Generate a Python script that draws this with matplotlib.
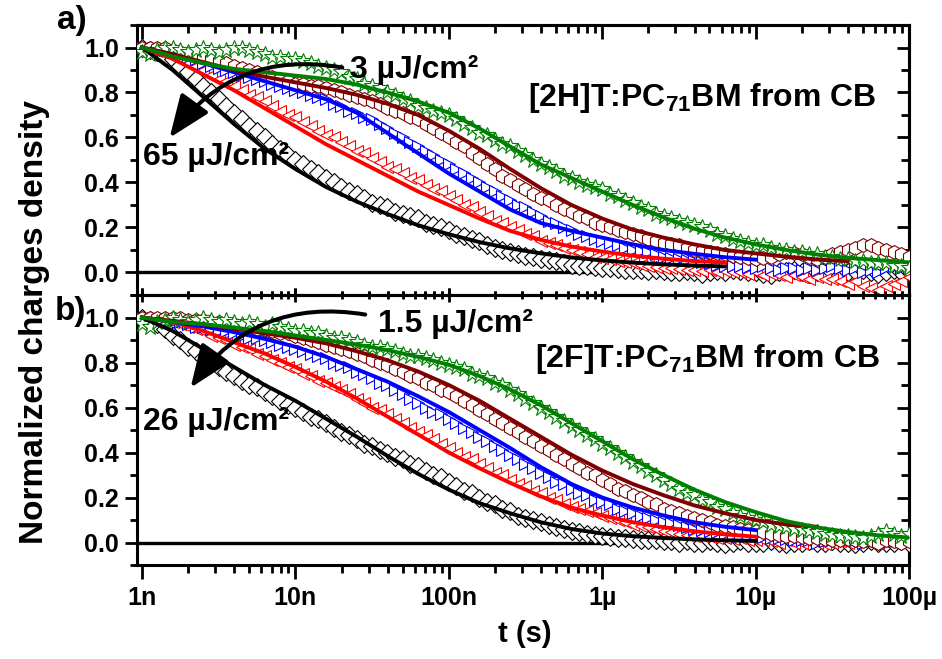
import numpy as np
import matplotlib.pyplot as plt
from matplotlib.ticker import FixedLocator, FuncFormatter, MultipleLocator, NullFormatter
from matplotlib.patches import FancyArrowPatch, ArrowStyle

plt.rcParams['font.family'] = ['Liberation Sans', 'DejaVu Sans']
plt.rcParams['font.weight'] = 'bold'
plt.rcParams['mathtext.fontset'] = 'custom'
plt.rcParams['mathtext.rm'] = 'Liberation Sans:bold'
plt.rcParams['mathtext.it'] = 'Liberation Sans:bold'
plt.rcParams['mathtext.bf'] = 'Liberation Sans:bold'

W, H = 942, 659
TICKSIZE = 18
TEXTSIZE = 23
LABELSIZE = 24

# measured points, 20 per decade from 1 ns to 100 us
mant_data = [1.0, 1.122, 1.259, 1.413, 1.585, 1.778, 1.995, 2.239, 2.512, 2.818,
             3.162, 3.548, 3.981, 4.467, 5.012, 5.623, 6.310, 7.079, 7.943, 8.913]
t_data = [m * 10.0 ** d for d in range(-9, -4) for m in mant_data] + [1e-4]

# fit curves, 5 per decade
mant_fit = [1.0, 1.585, 2.512, 3.981, 6.310]
t_fit = [m * 10.0 ** d for d in range(-9, -4) for m in mant_fit] + [1e-4]

# ---- panel a: [2H]T:PC71BM, 65 ... 3 uJ/cm2 ----
a_black = [1.00, 0.99, 0.98, 0.96, 0.95, 0.92, 0.89, 0.86, 0.83, 0.80,
           0.77, 0.74, 0.71, 0.68, 0.65, 0.63, 0.60, 0.57, 0.55, 0.52,
           0.50, 0.48, 0.46, 0.44, 0.42, 0.40, 0.38, 0.36, 0.35, 0.33,
           0.31, 0.30, 0.29, 0.27, 0.26, 0.25, 0.24, 0.22, 0.21, 0.20,
           0.19, 0.17, 0.16, 0.15, 0.14, 0.12, 0.11, 0.10, 0.09, 0.08,
           0.075, 0.07, 0.06, 0.055, 0.05, 0.04, 0.035, 0.03, 0.03, 0.025,
           0.02, 0.02, 0.015, 0.01, 0.01, 0.01, 0.005, 0.01, 0.005, 0.0,
           0.0, 0.005, 0.0, -0.005, 0.0, 0.005, 0.0, 0.01, 0.005, 0.0,
           0.0, -0.005, -0.01, 0.0, 0.005, 0.01, 0.0, -0.005, 0.0, 0.01,
           0.0, -0.01, 0.0, 0.005, 0.01, 0.0, -0.005, 0.0, 0.01, 0.0,
           0.005]
a_red = [1.00, 1.00, 0.99, 0.98, 0.96, 0.95, 0.93, 0.92, 0.90, 0.88,
         0.86, 0.85, 0.83, 0.81, 0.79, 0.78, 0.76, 0.74, 0.72, 0.70,
         0.69, 0.67, 0.65, 0.63, 0.61, 0.60, 0.58, 0.56, 0.54, 0.53,
         0.51, 0.49, 0.47, 0.46, 0.44, 0.42, 0.41, 0.39, 0.37, 0.36,
         0.34, 0.32, 0.30, 0.29, 0.27, 0.25, 0.23, 0.22, 0.20, 0.19,
         0.17, 0.16, 0.14, 0.13, 0.12, 0.11, 0.10, 0.09, 0.08, 0.07,
         0.065, 0.06, 0.05, 0.045, 0.04, 0.035, 0.03, 0.025, 0.02, 0.02,
         0.015, 0.01, 0.01, 0.005, 0.01, 0.0, 0.005, 0.0, 0.0, -0.005,
         0.0, -0.01, -0.005, -0.01, -0.02, -0.01, -0.02, -0.03, -0.02, -0.03,
         -0.03, -0.04, -0.05, -0.04, -0.06, -0.07, -0.08, -0.06, -0.05, -0.04,
         -0.02]
a_blue = [1.00, 1.00, 1.00, 0.99, 0.98, 0.97, 0.96, 0.95, 0.93, 0.92,
          0.91, 0.90, 0.89, 0.88, 0.87, 0.86, 0.85, 0.84, 0.83, 0.82,
          0.81, 0.80, 0.79, 0.78, 0.77, 0.75, 0.74, 0.72, 0.71, 0.69,
          0.68, 0.66, 0.64, 0.62, 0.60, 0.58, 0.56, 0.54, 0.52, 0.50,
          0.48, 0.46, 0.44, 0.42, 0.40, 0.38, 0.36, 0.34, 0.32, 0.30,
          0.29, 0.27, 0.25, 0.23, 0.22, 0.20, 0.19, 0.17, 0.16, 0.15,
          0.14, 0.13, 0.12, 0.11, 0.10, 0.095, 0.09, 0.08, 0.07, 0.065,
          0.06, 0.055, 0.05, 0.045, 0.04, 0.035, 0.03, 0.03, 0.03, 0.025,
          0.02, 0.03, 0.02, 0.01, 0.02, 0.02, 0.01, 0.02, 0.01, 0.02,
          0.03, 0.02, 0.01, 0.02, 0.0, 0.01, 0.0, 0.02, 0.03, 0.02,
          0.02]
a_brown = [1.00, 1.00, 1.00, 1.00, 0.99, 0.98, 0.97, 0.97, 0.96, 0.95,
           0.94, 0.93, 0.92, 0.91, 0.90, 0.89, 0.88, 0.87, 0.86, 0.85,
           0.84, 0.84, 0.83, 0.83, 0.82, 0.81, 0.80, 0.79, 0.78, 0.77,
           0.76, 0.75, 0.73, 0.72, 0.71, 0.69, 0.68, 0.66, 0.64, 0.62,
           0.60, 0.58, 0.56, 0.53, 0.51, 0.48, 0.46, 0.43, 0.41, 0.39,
           0.37, 0.35, 0.33, 0.32, 0.30, 0.28, 0.27, 0.25, 0.24, 0.22,
           0.21, 0.20, 0.19, 0.18, 0.17, 0.16, 0.15, 0.14, 0.13, 0.125,
           0.12, 0.11, 0.10, 0.095, 0.09, 0.085, 0.08, 0.075, 0.07, 0.065,
           0.06, 0.065, 0.07, 0.08, 0.09, 0.085, 0.08, 0.07, 0.06, 0.07,
           0.08, 0.09, 0.10, 0.11, 0.12, 0.12, 0.11, 0.10, 0.09, 0.08,
           0.07]
a_green = [0.98, 0.97, 0.99, 1.00, 1.00, 0.99, 0.98, 0.99, 1.00, 0.99,
           0.98, 0.99, 1.00, 1.00, 0.99, 0.98, 0.97, 0.96, 0.96, 0.95,
           0.95, 0.94, 0.93, 0.92, 0.91, 0.90, 0.89, 0.87, 0.86, 0.84,
           0.83, 0.82, 0.80, 0.79, 0.77, 0.76, 0.74, 0.73, 0.72, 0.71,
           0.70, 0.68, 0.66, 0.64, 0.62, 0.61, 0.59, 0.57, 0.56, 0.54,
           0.52, 0.50, 0.48, 0.47, 0.45, 0.43, 0.42, 0.40, 0.39, 0.38,
           0.37, 0.35, 0.34, 0.32, 0.31, 0.29, 0.28, 0.26, 0.25, 0.24,
           0.23, 0.22, 0.21, 0.20, 0.19, 0.17, 0.16, 0.15, 0.14, 0.13,
           0.12, 0.12, 0.11, 0.10, 0.10, 0.09, 0.09, 0.08, 0.08, 0.07,
           0.07, 0.06, 0.06, 0.05, 0.05, 0.04, 0.04, 0.04, 0.03, 0.03,
           0.02]

a_black_fit = [1.0, 0.90, 0.78, 0.66, 0.55, 0.46, 0.38, 0.315, 0.26, 0.21,
               0.17, 0.135, 0.107, 0.085, 0.067, 0.054, 0.044, 0.036, 0.031, 0.027]
a_red_fit = [1.0, 0.95, 0.88, 0.81, 0.73, 0.65, 0.57, 0.50, 0.43, 0.36,
             0.30, 0.24, 0.185, 0.145, 0.115, 0.093, 0.075, 0.061, 0.051, 0.044]
a_blue_fit = [1.0, 0.97, 0.93, 0.89, 0.85, 0.81, 0.77, 0.71, 0.62, 0.53,
              0.44, 0.36, 0.28, 0.22, 0.185, 0.155, 0.125, 0.10, 0.083, 0.068, 0.057]
a_brown_fit = [1.0, 0.97, 0.935, 0.90, 0.87, 0.845, 0.82, 0.79, 0.75, 0.70,
               0.63, 0.55, 0.46, 0.375, 0.30, 0.24, 0.19, 0.155, 0.125, 0.10,
               0.085, 0.07, 0.058, 0.05]
a_green_fit = [1.0, 0.96, 0.93, 0.905, 0.89, 0.875, 0.86, 0.835, 0.80, 0.76,
               0.71, 0.64, 0.56, 0.48, 0.42, 0.36, 0.30, 0.245, 0.195, 0.155,
               0.125, 0.10, 0.08, 0.065, 0.055, 0.045]

# ---- panel b: [2F]T:PC71BM, 26 ... 1.5 uJ/cm2 ----
b_black = [1.00, 0.99, 0.97, 0.95, 0.92, 0.90, 0.87, 0.85, 0.82, 0.80,
           0.78, 0.76, 0.74, 0.72, 0.70, 0.69, 0.67, 0.65, 0.63, 0.61,
           0.60, 0.58, 0.56, 0.55, 0.53, 0.51, 0.49, 0.48, 0.46, 0.44,
           0.43, 0.41, 0.40, 0.38, 0.37, 0.35, 0.34, 0.32, 0.30, 0.29,
           0.27, 0.25, 0.23, 0.22, 0.20, 0.18, 0.17, 0.15, 0.14, 0.12,
           0.11, 0.10, 0.09, 0.08, 0.07, 0.06, 0.05, 0.045, 0.04, 0.035,
           0.03, 0.025, 0.02, 0.02, 0.015, 0.01, 0.01, 0.01, 0.005, 0.005,
           0.0, 0.005, 0.0, 0.0, 0.005, 0.0, -0.005, 0.0, 0.005, 0.0,
           0.0, 0.0, 0.005, 0.0, -0.005, 0.0, 0.0, 0.005, 0.0, 0.0,
           0.005, 0.0, 0.0, -0.005, 0.0, 0.005, 0.0, 0.0, 0.0, 0.005,
           0.0]
b_red = [1.00, 1.00, 0.99, 0.99, 0.98, 0.97, 0.96, 0.95, 0.94, 0.92,
         0.91, 0.90, 0.88, 0.87, 0.86, 0.84, 0.83, 0.81, 0.80, 0.78,
         0.77, 0.75, 0.74, 0.72, 0.71, 0.69, 0.68, 0.66, 0.64, 0.62,
         0.60, 0.59, 0.57, 0.55, 0.53, 0.51, 0.49, 0.48, 0.46, 0.44,
         0.42, 0.40, 0.38, 0.37, 0.35, 0.33, 0.31, 0.30, 0.28, 0.26,
         0.25, 0.23, 0.22, 0.20, 0.19, 0.17, 0.16, 0.15, 0.14, 0.13,
         0.12, 0.11, 0.10, 0.09, 0.08, 0.075, 0.07, 0.06, 0.05, 0.045,
         0.04, 0.035, 0.03, 0.03, 0.025, 0.02, 0.02, 0.015, 0.02, 0.01,
         0.01, 0.01, 0.005, 0.0, 0.01, 0.0, 0.0, 0.005, 0.0, -0.005,
         0.0, 0.005, 0.0, 0.0, 0.01, 0.0, 0.0, 0.005, 0.0, 0.01,
         0.0]
b_blue = [1.00, 1.00, 1.00, 0.99, 0.99, 0.98, 0.97, 0.96, 0.96, 0.95,
          0.94, 0.94, 0.93, 0.92, 0.91, 0.91, 0.90, 0.89, 0.88, 0.87,
          0.86, 0.85, 0.84, 0.83, 0.82, 0.80, 0.79, 0.78, 0.76, 0.75,
          0.73, 0.71, 0.70, 0.68, 0.66, 0.64, 0.62, 0.60, 0.58, 0.57,
          0.55, 0.53, 0.51, 0.49, 0.47, 0.45, 0.43, 0.41, 0.39, 0.37,
          0.35, 0.33, 0.31, 0.29, 0.27, 0.26, 0.24, 0.22, 0.21, 0.19,
          0.18, 0.17, 0.15, 0.14, 0.13, 0.12, 0.11, 0.10, 0.09, 0.085,
          0.08, 0.07, 0.06, 0.055, 0.05, 0.045, 0.04, 0.035, 0.03, 0.03,
          0.03, 0.025, 0.02, 0.02, 0.015, 0.01, 0.01, 0.01, 0.0, 0.005,
          0.01, 0.02, 0.015, 0.01, 0.0, 0.005, 0.01, 0.0, 0.005, 0.01,
          0.01]
b_brown = [1.00, 1.00, 1.00, 1.00, 1.00, 1.00, 0.99, 0.99, 0.99, 0.98,
           0.98, 0.97, 0.97, 0.96, 0.96, 0.95, 0.95, 0.94, 0.93, 0.93,
           0.92, 0.91, 0.90, 0.89, 0.88, 0.87, 0.86, 0.85, 0.84, 0.83,
           0.81, 0.80, 0.79, 0.77, 0.76, 0.74, 0.73, 0.71, 0.70, 0.68,
           0.67, 0.65, 0.63, 0.61, 0.59, 0.57, 0.55, 0.53, 0.51, 0.49,
           0.47, 0.45, 0.43, 0.41, 0.39, 0.37, 0.35, 0.33, 0.31, 0.30,
           0.28, 0.26, 0.24, 0.23, 0.21, 0.20, 0.18, 0.17, 0.15, 0.14,
           0.13, 0.12, 0.11, 0.10, 0.09, 0.08, 0.075, 0.07, 0.06, 0.055,
           0.05, 0.045, 0.04, 0.035, 0.03, 0.03, 0.025, 0.02, 0.02, 0.015,
           0.01, 0.01, 0.015, 0.01, 0.005, 0.01, 0.0, 0.01, 0.005, 0.0,
           0.005]
b_green = [0.97, 0.96, 0.98, 0.99, 1.00, 0.99, 0.98, 0.99, 1.00, 0.99,
           0.98, 0.99, 0.98, 0.97, 0.98, 0.97, 0.96, 0.97, 0.96, 0.95,
           0.94, 0.94, 0.93, 0.93, 0.92, 0.91, 0.91, 0.90, 0.89, 0.88,
           0.87, 0.87, 0.86, 0.85, 0.84, 0.83, 0.83, 0.82, 0.81, 0.80,
           0.79, 0.78, 0.77, 0.75, 0.74, 0.73, 0.71, 0.70, 0.68, 0.66,
           0.64, 0.62, 0.60, 0.58, 0.56, 0.54, 0.52, 0.50, 0.48, 0.46,
           0.44, 0.42, 0.40, 0.38, 0.36, 0.34, 0.32, 0.30, 0.28, 0.26,
           0.24, 0.22, 0.21, 0.19, 0.18, 0.16, 0.15, 0.13, 0.12, 0.11,
           0.10, 0.09, 0.08, 0.075, 0.07, 0.06, 0.055, 0.05, 0.045, 0.04,
           0.035, 0.03, 0.03, 0.025, 0.02, 0.03, 0.04, 0.05, 0.04, 0.03,
           0.04]

b_black_fit = [1.0, 0.94, 0.86, 0.78, 0.70, 0.63, 0.55, 0.47, 0.385, 0.305,
               0.235, 0.175, 0.13, 0.09, 0.06, 0.04, 0.028, 0.02, 0.014, 0.01, 0.007]
b_red_fit = [1.0, 0.98, 0.94, 0.89, 0.84, 0.78, 0.715, 0.64, 0.56, 0.48,
             0.40, 0.33, 0.265, 0.205, 0.155, 0.12, 0.09, 0.068, 0.05, 0.036, 0.026]
b_blue_fit = [1.0, 0.98, 0.96, 0.935, 0.905, 0.87, 0.825, 0.77, 0.715, 0.65,
              0.58, 0.50, 0.42, 0.335, 0.26, 0.20, 0.155, 0.12, 0.09, 0.07, 0.055]
b_brown_fit = [1.0, 0.985, 0.97, 0.95, 0.93, 0.91, 0.885, 0.85, 0.81, 0.76,
               0.70, 0.63, 0.55, 0.47, 0.39, 0.32, 0.26, 0.21, 0.165, 0.13,
               0.10, 0.08, 0.07]
b_green_fit = [1.0, 0.98, 0.97, 0.955, 0.94, 0.92, 0.90, 0.88, 0.855, 0.825,
               0.79, 0.74, 0.68, 0.61, 0.53, 0.45, 0.37, 0.30, 0.235, 0.18,
               0.135, 0.095, 0.067, 0.047, 0.032, 0.022]

colors = ['black', '#ff0000', '#0000ff', '#800000', '#008000']
markers = ['D', '<', '>', 'h', '*']
msizes = [9, 9, 9, 10, 12]

xtick_names = {1e-9: '1n', 1e-8: '10n', 1e-7: '100n', 1e-6: '1\u00b5', 1e-5: '10\u00b5', 1e-4: '100\u00b5'}
xminor = [m * 10.0 ** d for d in range(-9, -4) for m in range(2, 10)]
yticks = [0.0, 0.2, 0.4, 0.6, 0.8, 1.0]


def fx(x):
    return x / W


def fy(y):
    return 1 - y / H


fig = plt.figure(figsize=(W / 100, H / 100), dpi=100)
left, width = fx(137), (909 - 137) / W
ax_a = fig.add_axes([left, fy(295), width, 270 / H])
ax_b = fig.add_axes([left, fy(565), width, 270 / H])


def set_xticks(axis):
    axis.set_major_locator(FixedLocator(list(xtick_names)))
    axis.set_minor_locator(FixedLocator(xminor))
    axis.set_minor_formatter(NullFormatter())


def set_yticks(axis):
    axis.set_major_locator(FixedLocator(yticks))
    axis.set_minor_locator(MultipleLocator(0.1))


def draw_panel(ax, data, fits, top_dir, bottom_dir):
    for vals, c, m, s in zip(data, colors, markers, msizes):
        ax.plot(t_data, vals, ls='none', marker=m, ms=s, mfc='white', mec=c,
                mew=0.8, zorder=3)
    for vals, c in zip(fits, colors):
        ax.plot(t_fit[:len(vals)], vals, color=c, lw=2.8, zorder=4)
    ax.axhline(0, color='black', lw=2.4, zorder=2)
    ax.set_xscale('log')
    ax.set_xlim(0.928e-9, 1e-4)
    ax.set_ylim(-0.1, 1.1)
    set_yticks(ax.yaxis)
    ax.yaxis.set_major_formatter(FuncFormatter(lambda v, p: '%.1f' % v))
    set_xticks(ax.xaxis)
    ax.xaxis.set_major_formatter(FuncFormatter(lambda v, p: xtick_names.get(v, '')))
    for sp in ax.spines.values():
        sp.set_linewidth(2.2)
    ax.tick_params(which='both', width=2.0, labelsize=TICKSIZE, right=False, top=False)
    ax.tick_params(axis='y', which='major', direction='out', length=9, pad=4)
    ax.tick_params(axis='y', which='minor', direction='out', length=5)
    ax.tick_params(axis='x', which='major', direction=bottom_dir, length=10, pad=5)
    ax.tick_params(axis='x', which='minor', direction=bottom_dir, length=6)

    # right spine: ticks pointing inward, no labels
    sy = ax.secondary_yaxis('right')
    set_yticks(sy.yaxis)
    sy.yaxis.set_major_formatter(NullFormatter())
    sy.spines['right'].set_linewidth(2.2)
    sy.tick_params(which='both', direction='in', width=2.0)
    sy.tick_params(which='major', length=9)
    sy.tick_params(which='minor', length=6)

    # top spine
    sx = ax.secondary_xaxis('top')
    set_xticks(sx.xaxis)
    sx.xaxis.set_major_formatter(NullFormatter())
    sx.spines['top'].set_linewidth(2.2)
    sx.tick_params(which='both', direction=top_dir, width=2.0)
    sx.tick_params(which='major', length=10)
    sx.tick_params(which='minor', length=6)


draw_panel(ax_a, [a_black, a_red, a_blue, a_brown, a_green],
           [a_black_fit, a_red_fit, a_blue_fit, a_brown_fit, a_green_fit],
           top_dir='in', bottom_dir='inout')
draw_panel(ax_b, [b_black, b_red, b_blue, b_brown, b_green],
           [b_black_fit, b_red_fit, b_blue_fit, b_brown_fit, b_green_fit],
           top_dir='inout', bottom_dir='out')
ax_a.tick_params(axis='x', labelbottom=False)

fig.text(fx(35), fy(322), 'Normalized charges density', rotation=90,
         ha='center', va='center', fontsize=LABELSIZE)
fig.text(fx(525), fy(634), 't (s)', ha='center', va='center', fontsize=21)
fig.text(fx(72), fy(20), 'a)', ha='center', va='center', fontsize=LABELSIZE)
fig.text(fx(70), fy(312), 'b)', ha='center', va='center', fontsize=LABELSIZE)

fig.text(fx(350), fy(70), '3 \u00b5J/cm\u00b2', ha='left', va='center', fontsize=TEXTSIZE)
fig.text(fx(143), fy(157), '65 \u00b5J/cm\u00b2', ha='left', va='center', fontsize=TEXTSIZE)
fig.text(fx(528), fy(98), r'[2H]T:PC$_{71}$BM from CB', ha='left', va='center', fontsize=TEXTSIZE)
fig.text(fx(378), fy(324), '1.5 \u00b5J/cm\u00b2', ha='left', va='center', fontsize=TEXTSIZE)
fig.text(fx(143), fy(422), '26 \u00b5J/cm\u00b2', ha='left', va='center', fontsize=TEXTSIZE)
fig.text(fx(535), fy(359), r'[2F]T:PC$_{71}$BM from CB', ha='left', va='center', fontsize=TEXTSIZE)

head = ArrowStyle('-|>', head_length=0.75, head_width=0.3)
for tail, tip in [((345, 68), (168, 140)), ((368, 315), (189, 390))]:
    arr = FancyArrowPatch((fx(tail[0]), fy(tail[1])), (fx(tip[0]), fy(tip[1])),
                          transform=fig.transFigure, arrowstyle=head,
                          mutation_scale=35, connectionstyle='arc3,rad=0.32',
                          color='black', lw=2.9, zorder=10)
    fig.patches.append(arr)

fig.savefig('out.png', dpi=100)
